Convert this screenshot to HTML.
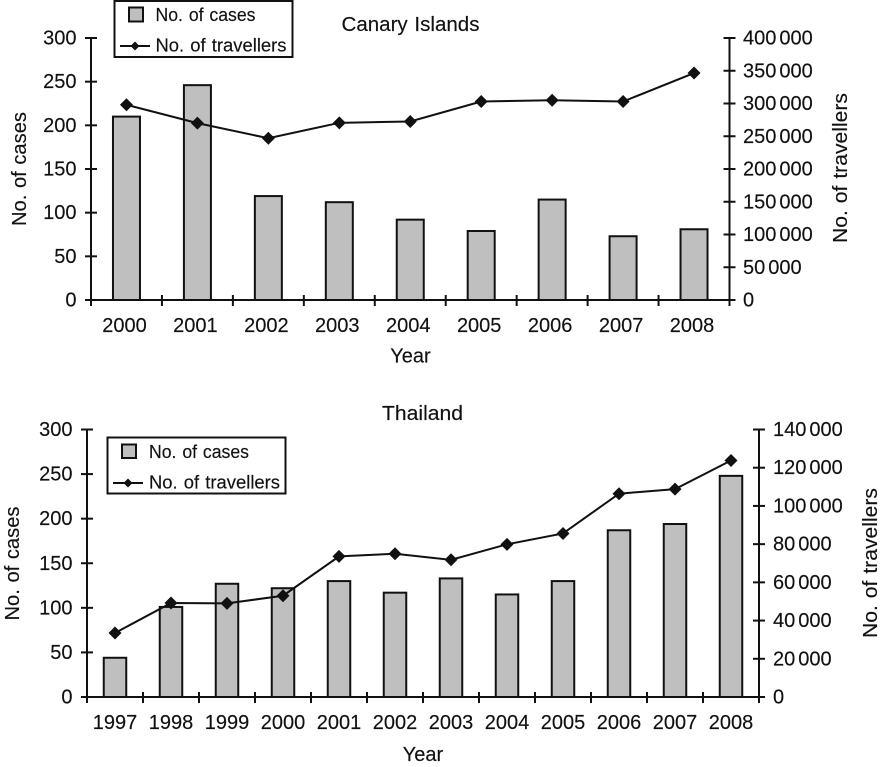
<!DOCTYPE html>
<html lang="en">
<head>
<meta charset="utf-8">
<title>Cases and travellers: Canary Islands and Thailand</title>
<style>
html,body{margin:0;padding:0;background:#fff;width:883px;height:767px;overflow:hidden}
svg{display:block}
text{font-family:"Liberation Sans",sans-serif;fill:#111;font-size:20px;word-spacing:-2.5px;stroke:#111;stroke-width:.15px}
.leg{font-size:18.5px;word-spacing:1px}
.ttl{font-size:20px;word-spacing:1px}
</style>
</head>
<body>
<svg id="root" xmlns="http://www.w3.org/2000/svg" width="883" height="767" viewBox="0 0 883 767">
  <g id="canary">
    <text class="ttl" x="410.5" y="31" text-anchor="middle" textLength="138" lengthAdjust="spacingAndGlyphs">Canary Islands</text>
    <text class="ttl" x="410.5" y="362.5" text-anchor="middle">Year</text>
    <text class="ttl" transform="translate(26,169) rotate(-90)" text-anchor="middle" textLength="114" lengthAdjust="spacingAndGlyphs">No. of cases</text>
    <text class="ttl" transform="translate(847,168) rotate(-90)" text-anchor="middle" textLength="150" lengthAdjust="spacingAndGlyphs">No. of travellers</text>
  </g>
  <g id="thailand">
    <text class="ttl" x="422.5" y="420" text-anchor="middle" textLength="81" lengthAdjust="spacingAndGlyphs">Thailand</text>
    <text class="ttl" x="423" y="761" text-anchor="middle">Year</text>
    <text class="ttl" transform="translate(19,563.5) rotate(-90)" text-anchor="middle" textLength="114" lengthAdjust="spacingAndGlyphs">No. of cases</text>
    <text class="ttl" transform="translate(877,563) rotate(-90)" text-anchor="middle" textLength="150" lengthAdjust="spacingAndGlyphs">No. of travellers</text>
  </g>
  <g>
    <rect x="114.5" y="1" width="178" height="56" fill="#fff" stroke="#111" stroke-width="2"/>
    <rect x="129" y="7.5" width="14" height="14" fill="#bfbfbf" stroke="#111" stroke-width="2"/>
    <text class="leg" x="155.5" y="21" textLength="100" lengthAdjust="spacingAndGlyphs">No. of cases</text>
    <line x1="120" x2="150" y1="46" y2="46" stroke="#111" stroke-width="2"/>
    <path d="M135 41.5l4.5 4.5-4.5 4.5-4.5-4.5z" fill="#111"/>
    <text class="leg" x="155.5" y="51.5" textLength="131" lengthAdjust="spacingAndGlyphs">No. of travellers</text>
  </g>
  <g>
    <rect x="107.5" y="437.5" width="178" height="56" fill="#fff" stroke="#111" stroke-width="2"/>
    <rect x="122" y="444.5" width="14" height="13.5" fill="#bfbfbf" stroke="#111" stroke-width="2"/>
    <text class="leg" x="149" y="458" textLength="100" lengthAdjust="spacingAndGlyphs">No. of cases</text>
    <line x1="113" x2="143" y1="483" y2="483" stroke="#111" stroke-width="2"/>
    <path d="M128 478.5l4.5 4.5-4.5 4.5-4.5-4.5z" fill="#111"/>
    <text class="leg" x="149" y="488.5" textLength="131" lengthAdjust="spacingAndGlyphs">No. of travellers</text>
  </g>
</svg>
<script>
var canaryYears = ["2000","2001","2002","2003","2004","2005","2006","2007","2008"];
var canaryCases = [210,246,119,112,92,79,115,73,81];
var canaryTravellers = [298000,270000,247000,270500,272500,303000,305000,303000,346500];
var canaryCaseTicks = [0,50,100,150,200,250,300];
var canaryTravellerTicks = [0,50000,100000,150000,200000,250000,300000,350000,400000];

var thailandYears = ["1997","1998","1999","2000","2001","2002","2003","2004","2005","2006","2007","2008"];
var thailandCases = [44,101,127,122,130,117,133,115,130,187,194,248];
var thailandTravellers = [33500,49200,49000,53000,73600,75000,71800,79900,85600,106400,108800,123800];
var thailandCaseTicks = [0,50,100,150,200,250,300];
var thailandTravellerTicks = [0,20000,40000,60000,80000,100000,120000,140000];

var NS = 'http://www.w3.org/2000/svg';

function make(parent, tag, attrs) {
  var el = document.createElementNS(NS, tag);
  for (var k in attrs) el.setAttribute(k, attrs[k]);
  parent.appendChild(el);
  return el;
}

function fmt(v) {
  var s = String(v);
  return s.length > 3 ? s.slice(0, -3) + ' ' + s.slice(-3) : s;
}

function drawChart(host, frame, years, cases, travellers, caseTicks, travTicks) {
  var left = frame.left, right = frame.right, top = frame.top, base = frame.base;
  var step = (right - left) / years.length;
  var caseMax = caseTicks[caseTicks.length - 1];
  var travMax = travTicks[travTicks.length - 1];
  function xBand(i) { return left + step * i; }
  function xMid(i) { return left + step * (i + 0.5); }
  function yCases(v) { return base - (base - top) * v / caseMax; }
  function yTrav(v) { return base - (base - top) * v / travMax; }

  cases.forEach(function (v, i) {
    var r = make(host, 'rect', {x: xMid(i) - frame.barW / 2, y: yCases(v), width: frame.barW, height: base - yCases(v), fill: '#bfbfbf', stroke: '#111', 'stroke-width': 2});
    
    
  });

  var axes = make(host, 'path', {
    d: 'M' + left + ' ' + top + 'V' + (base + 6) + 'M' + right + ' ' + top + 'V' + (base + 6) + 'M' + (left - 6) + ' ' + base + 'H' + right,
    stroke: '#111', 'stroke-width': 2, fill: 'none'
  });
  
  

  caseTicks.forEach(function (v) {
    var t = make(host, 'line', {x1: left - 6, x2: left + 6, y1: yCases(v), y2: yCases(v), stroke: '#111', 'stroke-width': 2});
    
    
    var l = make(host, 'text', {x: left - 14.5, y: yCases(v) + 6.5, 'text-anchor': 'end'});
    l.textContent = fmt(v);
    
    
  });

  travTicks.forEach(function (v) {
    var t = make(host, 'line', {x1: right - 6, x2: right + 6, y1: yTrav(v), y2: yTrav(v), stroke: '#111', 'stroke-width': 2});
    
    
    var l = make(host, 'text', {x: right + frame.rightGap, y: yTrav(v) + 6.5});
    l.textContent = fmt(v);
    
    
  });

  years.forEach(function (y, i) {
    if (i > 0) {
      var t = make(host, 'line', {x1: xBand(i), x2: xBand(i), y1: base - 5, y2: base + 6, stroke: '#111', 'stroke-width': 2});
      
      
    }
    var l = make(host, 'text', {x: xMid(i) + frame.xLabelShift, y: base + frame.xLabelGap, 'text-anchor': 'middle'});
    l.textContent = y;
    
    
  });

  var pts = travellers.map(function (v, i) { return xMid(i) + ',' + yTrav(v); }).join(' ');
  var line = make(host, 'polyline', {points: pts, fill: 'none', stroke: '#111', 'stroke-width': 2});
  
  

  travellers.forEach(function (v, i) {
    var x = xMid(i), y = yTrav(v), s = 6.5;
    var m = make(host, 'path', {d: 'M' + x + ' ' + (y - s) + 'L' + (x + s) + ' ' + y + 'L' + x + ' ' + (y + s) + 'L' + (x - s) + ' ' + y + 'Z', fill: '#111'});
    
    
  });
}

drawChart(document.getElementById('canary'),
  {left: 91, right: 729.5, top: 38, base: 300, barW: 27, rightGap: 13.5, xLabelGap: 32, xLabelShift: -2},
  canaryYears, canaryCases, canaryTravellers, canaryCaseTicks, canaryTravellerTicks);

drawChart(document.getElementById('thailand'),
  {left: 87, right: 759, top: 429.5, base: 697, barW: 22.5, rightGap: 14, xLabelGap: 32, xLabelShift: 0},
  thailandYears, thailandCases, thailandTravellers, thailandCaseTicks, thailandTravellerTicks);
</script>
</body>
</html>
